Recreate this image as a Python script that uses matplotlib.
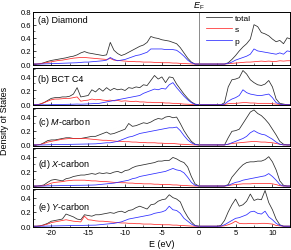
import matplotlib
matplotlib.use("Agg")
import matplotlib.pyplot as plt
import numpy as np

plt.rcParams['font.family'] = ['Liberation Sans', 'DejaVu Sans']
plt.rcParams['mathtext.fontset'] = 'custom'
plt.rcParams['mathtext.rm'] = 'Liberation Sans'
plt.rcParams['mathtext.it'] = 'Liberation Sans:italic'

# energy grid (eV), 0.5 eV step
energy = np.linspace(-22.5, 12.5, 71)

panel_labels = ['(a) Diamond', '(b) BCT C4', r'(c) $\mathit{M}$-carbon',
                r'(d) $\mathit{X}$-carbon', r'(e) $\mathit{Y}$-carbon']

total_a = [0, 0, 0.005, 0.02, 0.04, 0.055, 0.065, 0.075, 0.085, 0.095,
           0.11, 0.12, 0.14, 0.17, 0.19, 0.17, 0.16, 0.15, 0.14, 0.13,
           0.14, 0.33, 0.21, 0.16, 0.13, 0.15, 0.18, 0.21, 0.24, 0.27,
           0.29, 0.33, 0.42, 0.40, 0.39, 0.37, 0.36, 0.35, 0.33, 0.31,
           0.25, 0.17, 0.09, 0.03, 0, 0, 0, 0, 0, 0,
           0, 0, 0, 0.02, 0.07, 0.13, 0.20, 0.26, 0.31, 0.38,
           0.60, 0.57, 0.48, 0.46, 0.43, 0.38, 0.34, 0.36, 0.31, 0.40,
           0.38]
p_a = [0, 0, 0, 0.002, 0.004, 0.006, 0.008, 0.01, 0.012, 0.014,
       0.016, 0.018, 0.02, 0.025, 0.03, 0.03, 0.035, 0.04, 0.045, 0.05,
       0.06, 0.10, 0.07, 0.05, 0.06, 0.07, 0.09, 0.11, 0.13, 0.14,
       0.16, 0.18, 0.23, 0.23, 0.23, 0.23, 0.22, 0.22, 0.22, 0.21,
       0.17, 0.12, 0.06, 0.02, 0, 0, 0, 0, 0, 0,
       0, 0, 0, 0.01, 0.03, 0.06, 0.08, 0.10, 0.12, 0.15,
       0.23, 0.20, 0.19, 0.18, 0.17, 0.16, 0.15, 0.17, 0.15, 0.20,
       0.19]
s_a = [0, 0, 0.005, 0.015, 0.025, 0.035, 0.045, 0.055, 0.06, 0.07,
       0.08, 0.09, 0.095, 0.10, 0.10, 0.095, 0.09, 0.085, 0.08, 0.075,
       0.07, 0.085, 0.06, 0.055, 0.05, 0.045, 0.04, 0.04, 0.035, 0.035,
       0.03, 0.03, 0.03, 0.025, 0.025, 0.02, 0.02, 0.02, 0.015, 0.015,
       0.01, 0.008, 0.005, 0.002, 0, 0, 0, 0, 0, 0,
       0, 0, 0, 0.005, 0.01, 0.015, 0.02, 0.025, 0.03, 0.03,
       0.035, 0.04, 0.045, 0.04, 0.045, 0.04, 0.04, 0.05, 0.045, 0.05,
       0.05]

total_b = [0, 0, 0.01, 0.03, 0.06, 0.09, 0.10, 0.10, 0.11, 0.11,
           0.12, 0.15, 0.24, 0.11, 0.12, 0.13, 0.21, 0.18, 0.23, 0.19,
           0.24, 0.20, 0.23, 0.21, 0.22, 0.20, 0.24, 0.23, 0.25, 0.24,
           0.28, 0.27, 0.34, 0.41, 0.36, 0.39, 0.31, 0.39, 0.38, 0.29,
           0.22, 0.15, 0.09, 0.04, 0.01, 0, 0, 0, 0, 0,
           0, 0, 0.03, 0.25, 0.35, 0.36, 0.38, 0.48, 0.43, 0.35,
           0.31, 0.28, 0.27, 0.29, 0.34, 0.25, 0.08, 0.02, 0.01, 0,
           0]
p_b = [0, 0, 0, 0, 0, 0.002, 0.003, 0.004, 0.005, 0.006,
       0.007, 0.008, 0.01, 0.008, 0.01, 0.012, 0.015, 0.018, 0.02, 0.03,
       0.04, 0.05, 0.06, 0.07, 0.08, 0.09, 0.10, 0.11, 0.12, 0.13,
       0.16, 0.18, 0.20, 0.22, 0.21, 0.23, 0.22, 0.28, 0.31, 0.24,
       0.18, 0.12, 0.07, 0.03, 0.005, 0, 0, 0, 0, 0,
       0, 0, 0.01, 0.05, 0.08, 0.10, 0.13, 0.21, 0.17, 0.15,
       0.14, 0.13, 0.13, 0.14, 0.15, 0.10, 0.03, 0.01, 0, 0,
       0]
s_b = [0, 0, 0.01, 0.03, 0.05, 0.07, 0.08, 0.08, 0.085, 0.09,
       0.09, 0.10, 0.11, 0.05, 0.06, 0.065, 0.08, 0.07, 0.075, 0.065,
       0.06, 0.065, 0.055, 0.06, 0.05, 0.055, 0.05, 0.045, 0.05, 0.04,
       0.04, 0.035, 0.035, 0.03, 0.03, 0.03, 0.025, 0.025, 0.02, 0.02,
       0.015, 0.01, 0.008, 0.005, 0, 0, 0, 0, 0, 0,
       0, 0, 0.005, 0.015, 0.02, 0.02, 0.025, 0.03, 0.03, 0.025,
       0.025, 0.02, 0.02, 0.02, 0.02, 0.015, 0.01, 0.005, 0, 0,
       0]

total_c = [0, 0, 0.005, 0.03, 0.06, 0.07, 0.07, 0.08, 0.09, 0.10,
           0.10, 0.09, 0.09, 0.09, 0.10, 0.11, 0.12, 0.12, 0.14, 0.16,
           0.18, 0.15, 0.16, 0.18, 0.20, 0.22, 0.30, 0.26, 0.27, 0.29,
           0.31, 0.30, 0.32, 0.35, 0.37, 0.36, 0.39, 0.40, 0.38, 0.39,
           0.30, 0.20, 0.12, 0.05, 0.01, 0, 0, 0, 0, 0,
           0, 0, 0, 0.10, 0.19, 0.20, 0.22, 0.30, 0.38, 0.46,
           0.49, 0.44, 0.41, 0.36, 0.30, 0.22, 0.14, 0.05, 0.01, 0,
           0]
p_c = [0, 0, 0, 0, 0.002, 0.003, 0.004, 0.005, 0.006, 0.007,
       0.008, 0.009, 0.01, 0.011, 0.012, 0.013, 0.014, 0.015, 0.02, 0.025,
       0.03, 0.03, 0.04, 0.05, 0.07, 0.09, 0.11, 0.12, 0.14, 0.16,
       0.17, 0.18, 0.19, 0.20, 0.21, 0.22, 0.23, 0.24, 0.24, 0.25,
       0.20, 0.13, 0.07, 0.03, 0.005, 0, 0, 0, 0, 0,
       0, 0, 0, 0.01, 0.03, 0.05, 0.07, 0.09, 0.12, 0.17,
       0.20, 0.17, 0.15, 0.14, 0.11, 0.08, 0.04, 0.01, 0, 0,
       0]
s_c = [0, 0, 0.005, 0.02, 0.04, 0.05, 0.06, 0.07, 0.08, 0.085,
       0.09, 0.09, 0.09, 0.09, 0.09, 0.085, 0.08, 0.075, 0.07, 0.065,
       0.065, 0.06, 0.055, 0.05, 0.05, 0.045, 0.045, 0.04, 0.04, 0.035,
       0.035, 0.03, 0.03, 0.03, 0.025, 0.025, 0.02, 0.02, 0.02, 0.015,
       0.01, 0.008, 0.005, 0.002, 0, 0, 0, 0, 0, 0,
       0, 0, 0, 0.01, 0.02, 0.025, 0.03, 0.035, 0.04, 0.045,
       0.05, 0.045, 0.04, 0.04, 0.035, 0.03, 0.02, 0.01, 0, 0,
       0]

total_d = [0, 0, 0.005, 0.015, 0.05, 0.08, 0.09, 0.08, 0.07, 0.10,
           0.11, 0.13, 0.14, 0.15, 0.15, 0.16, 0.17, 0.16, 0.18, 0.17,
           0.18, 0.17, 0.19, 0.20, 0.18, 0.21, 0.22, 0.25, 0.27, 0.28,
           0.29, 0.30, 0.31, 0.32, 0.34, 0.34, 0.35, 0.35, 0.39, 0.37,
           0.34, 0.32, 0.26, 0.13, 0.03, 0, 0, 0, 0, 0,
           0, 0, 0, 0.02, 0.12, 0.18, 0.24, 0.29, 0.32, 0.33,
           0.33, 0.34, 0.34, 0.36, 0.40, 0.33, 0.22, 0.07, 0.01, 0,
           0]
p_d = [0, 0, 0, 0, 0.002, 0.003, 0.004, 0.005, 0.006, 0.007,
       0.008, 0.009, 0.01, 0.01, 0.011, 0.012, 0.013, 0.015, 0.02, 0.025,
       0.03, 0.035, 0.04, 0.05, 0.06, 0.07, 0.08, 0.10, 0.11, 0.13,
       0.14, 0.15, 0.16, 0.17, 0.18, 0.19, 0.20, 0.22, 0.24, 0.22,
       0.21, 0.18, 0.12, 0.05, 0.01, 0, 0, 0, 0, 0,
       0, 0, 0, 0.01, 0.03, 0.05, 0.06, 0.08, 0.09, 0.10,
       0.11, 0.12, 0.13, 0.14, 0.17, 0.13, 0.08, 0.02, 0, 0,
       0]
s_d = [0, 0, 0, 0.005, 0.02, 0.04, 0.05, 0.055, 0.06, 0.07,
       0.075, 0.08, 0.08, 0.08, 0.08, 0.075, 0.07, 0.07, 0.065, 0.06,
       0.06, 0.055, 0.05, 0.05, 0.045, 0.045, 0.04, 0.04, 0.035, 0.035,
       0.03, 0.03, 0.03, 0.025, 0.025, 0.02, 0.02, 0.02, 0.015, 0.015,
       0.01, 0.008, 0.005, 0.002, 0, 0, 0, 0, 0, 0,
       0, 0, 0, 0.005, 0.015, 0.02, 0.025, 0.03, 0.03, 0.03,
       0.035, 0.035, 0.035, 0.035, 0.035, 0.03, 0.02, 0.005, 0, 0,
       0]

total_e = [0, 0, 0.005, 0.02, 0.04, 0.07, 0.08, 0.09, 0.10, 0.17,
           0.15, 0.13, 0.10, 0.09, 0.16, 0.15, 0.14, 0.16, 0.16, 0.17,
           0.18, 0.19, 0.18, 0.20, 0.21, 0.19, 0.22, 0.23, 0.26, 0.28,
           0.26, 0.24, 0.30, 0.31, 0.35, 0.37, 0.38, 0.44, 0.40, 0.38,
           0.34, 0.22, 0.13, 0.06, 0.01, 0, 0, 0, 0, 0,
           0, 0.01, 0.08, 0.20, 0.30, 0.38, 0.28, 0.30, 0.35, 0.45,
           0.36, 0.38, 0.37, 0.50, 0.33, 0.23, 0.10, 0.02, 0, 0,
           0]
p_e = [0, 0, 0, 0, 0.002, 0.003, 0.004, 0.005, 0.006, 0.007,
       0.008, 0.009, 0.01, 0.01, 0.012, 0.013, 0.014, 0.015, 0.02, 0.025,
       0.03, 0.035, 0.04, 0.05, 0.06, 0.08, 0.10, 0.11, 0.12, 0.13,
       0.14, 0.15, 0.16, 0.18, 0.19, 0.20, 0.22, 0.28, 0.23, 0.22,
       0.18, 0.11, 0.07, 0.03, 0.005, 0, 0, 0, 0, 0,
       0, 0, 0.02, 0.05, 0.08, 0.11, 0.12, 0.14, 0.16, 0.20,
       0.21, 0.18, 0.17, 0.21, 0.13, 0.09, 0.04, 0.01, 0, 0,
       0]
s_e = [0, 0, 0.005, 0.015, 0.03, 0.05, 0.06, 0.07, 0.08, 0.09,
       0.08, 0.07, 0.065, 0.06, 0.14, 0.09, 0.085, 0.075, 0.07, 0.07,
       0.065, 0.06, 0.055, 0.05, 0.045, 0.045, 0.04, 0.04, 0.035, 0.035,
       0.03, 0.03, 0.03, 0.025, 0.025, 0.02, 0.02, 0.02, 0.015, 0.015,
       0.01, 0.008, 0.005, 0.002, 0, 0, 0, 0, 0, 0,
       0, 0, 0.005, 0.02, 0.04, 0.07, 0.04, 0.035, 0.035, 0.04,
       0.035, 0.035, 0.04, 0.04, 0.035, 0.03, 0.01, 0.005, 0, 0,
       0]

totals = [total_a, total_b, total_c, total_d, total_e]
p_states = [p_a, p_b, p_c, p_d, p_e]
s_states = [s_a, s_b, s_c, s_d, s_e]
label_y = [0.86, 0.70, 0.64, 0.60, 0.55]

fig, axs = plt.subplots(5, 1, figsize=(2.91, 2.51), dpi=100, sharex=True,
                        gridspec_kw={'height_ratios': [54, 38, 38, 39, 38]})
fig.subplots_adjust(left=0.113, right=0.997, top=0.950, bottom=0.092, hspace=0.055)

for i, ax in enumerate(axs):
    ax.plot(energy, totals[i], color='#2a2a2a', lw=0.55, label='total')
    ax.plot(energy, s_states[i], color='#ff2a2a', lw=0.55, label='s')
    ax.plot(energy, p_states[i], color='#2a2aff', lw=0.55, label='p')
    ax.axvline(0, color='#777777', lw=0.6)
    ax.set_xlim(-22.5, 12.4)
    if i == 0:
        ax.set_ylim(-0.02, 0.8)
        ax.set_yticks([0.0, 0.2, 0.4, 0.6, 0.8])
    else:
        ax.set_ylim(-0.01, 0.52)
        ax.set_yticks([0.0, 0.2, 0.4])
    ax.set_yticklabels([f'{v:.1f}' for v in ax.get_yticks()])
    ax.set_xticks([-20, -15, -10, -5, 0, 5, 10])
    ax.set_xticks(np.arange(-22.5, 12.5, 2.5), minor=True)
    ax.set_yticks(np.arange(0, ax.get_ylim()[1], 0.1), minor=True)
    ax.tick_params(which='major', direction='in', length=2.5, width=0.5,
                   labelsize=5.5, pad=1.5)
    ax.tick_params(which='minor', direction='in', length=1.3, width=0.4)
    for sp in ax.spines.values():
        sp.set_linewidth(0.7)
    ax.text(0.02, label_y[i], panel_labels[i], transform=ax.transAxes,
            fontsize=6.5, va='center', ha='left')

axs[0].legend(loc='upper left', bbox_to_anchor=(0.655, 1.05), frameon=False,
              fontsize=6, handlelength=3.1, handletextpad=0.3,
              labelspacing=0.45, borderpad=0.1)
axs[0].text(0, 1.01, r'$E_\mathrm{F}$', transform=axs[0].get_xaxis_transform(),
            ha='center', va='bottom', fontsize=6.5)
axs[-1].set_xticklabels(['-20', '-15', '-10', '-5', '0', '5', '10'])
axs[-1].set_xlabel('E (eV)', fontsize=6.5, labelpad=2)
fig.text(0.017, 0.52, 'Density of States', rotation=90, fontsize=6.5,
         ha='center', va='center')

plt.savefig('out.png', dpi=100)
